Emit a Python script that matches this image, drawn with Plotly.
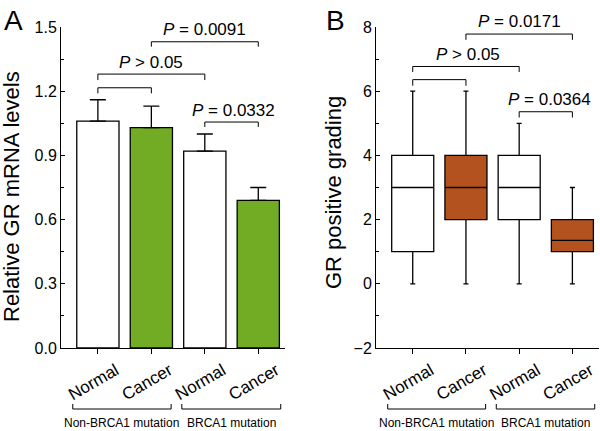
import plotly.graph_objects as go

# ---- data ----
categories = ["Normal", "Cancer", "Normal", "Cancer"]
groups = ["Non-BRCA1 mutation", "BRCA1 mutation"]

mrna_mean = [1.06, 1.03, 0.92, 0.69]
mrna_err = [0.10, 0.10, 0.08, 0.06]

grade_low = [0, 0, 0, 0]
grade_q1 = [1, 2, 2, 1]
grade_median = [3, 3, 3, 1.35]
grade_q3 = [4, 4, 4, 2]
grade_high = [6, 6, 5, 3]

pairs = [(0, 1), (0, 2), (1, 3), (2, 3)]
p_labels_a = ["", "<i>P</i> > 0.05", "<i>P</i> = 0.0091", "<i>P</i> = 0.0332"]
p_labels_b = ["", "<i>P</i> > 0.05", "<i>P</i> = 0.0171", "<i>P</i> = 0.0364"]

GREEN = "#72AC25"
BROWN = "#B4521F"
FONT = "Liberation Sans"
W, H = 600, 431

xs = list(range(len(categories)))
bar_colors = ["white", GREEN, "white", GREEN]

fig = go.Figure()

fig.add_trace(go.Bar(
    x=xs, y=mrna_mean, width=0.79,
    marker=dict(color=bar_colors, line=dict(color="black", width=1.3)),
    error_y=dict(type="data", symmetric=False, array=mrna_err,
                 arrayminus=[0] * len(mrna_err), color="black",
                 thickness=1.3, width=8),
    xaxis="x", yaxis="y", showlegend=False,
))

for idxs, fill in [([0, 2], "white"), ([1, 3], BROWN)]:
    fig.add_trace(go.Box(
        x=[xs[i] for i in idxs],
        lowerfence=[grade_low[i] for i in idxs],
        q1=[grade_q1[i] for i in idxs],
        median=[grade_median[i] for i in idxs],
        q3=[grade_q3[i] for i in idxs],
        upperfence=[grade_high[i] for i in idxs],
        width=0.79, whiskerwidth=0.12, fillcolor=fill,
        line=dict(color="black", width=1.3), boxpoints=False,
        xaxis="x2", yaxis="y2", showlegend=False, hoverinfo="skip",
    ))

ydom = [1 - 348 / H, 1 - 27 / H]
xcommon = dict(range=[-0.69, 3.5], tickvals=xs, ticktext=categories,
               tickangle=-30, ticks="outside", ticklen=5, tickcolor="black",
               showline=True, linecolor="black", linewidth=1,
               showgrid=False, zeroline=False,
               tickfont=dict(family=FONT, size=17, color="black"),
               ticklabelshift=18)
ycommon = dict(ticks="inside", ticklen=4, tickcolor="black",
               showline=True, linecolor="black", linewidth=1,
               showgrid=False, zeroline=False, domain=ydom,
               tickfont=dict(family=FONT, size=16, color="black"))

fig.update_layout(
    width=W, height=H, margin=dict(l=0, r=0, t=0, b=0, autoexpand=False),
    paper_bgcolor="white", plot_bgcolor="white",
    barmode="overlay", boxmode="overlay",
    xaxis=dict(domain=[61 / W, 285 / W], anchor="y", automargin=False, **xcommon),
    xaxis2=dict(domain=[376 / W, 599 / W], anchor="y2", automargin=False, **xcommon),
    yaxis=dict(anchor="x", range=[0, 1.5], dtick=0.3, tick0=0,
               tickformat=".1f", automargin=False,
               minor=dict(dtick=0.15, ticks="inside", ticklen=3,
                          tickcolor="black"),
               **ycommon),
    yaxis2=dict(anchor="x2", range=[-2, 8], dtick=2, tick0=0, automargin=False,
                minor=dict(dtick=1, ticks="inside", ticklen=3,
                           tickcolor="black"),
                **ycommon),
)

shapes = []
annotations = []

# significance brackets (y in axis units) and label centres
br_a = [(1.216, 1.19), (1.28, 1.252), (1.431, 1.408), (1.056, 1.033)]
txt_a = [(None, None), (1.0, 1.336), (2.0, 1.49), (2.53, 1.112)]
br_b = [(6.36, 6.17), (6.77, 6.6), (7.78, 7.6), (5.36, 5.18)]
txt_b = [(None, None), (1.03, 7.13), (2.0, 8.16), (2.57, 5.73)]

for (xr, yr, rng, brs, txts, labels) in [
        ("x", "y", (0, 1.5), br_a, txt_a, p_labels_a),
        ("x2", "y2", (-2, 8), br_b, txt_b, p_labels_b)]:
    for (a, b), (ytop, yleg), (tx, ty), lab in zip(pairs, brs, txts, labels):
        shapes.append(dict(
            type="path", xref=xr, yref=yr,
            path=f"M {xs[a]},{yleg} L {xs[a]},{ytop} L {xs[b]},{ytop} L {xs[b]},{yleg}",
            line=dict(color="black", width=1)))
        if lab:
            annotations.append(dict(
                x=tx, y=(ty - rng[0]) / (rng[1] - rng[0]),
                xref=xr, yref=yr + " domain", text=lab, showarrow=False,
                xanchor="center", yanchor="middle",
                font=dict(family=FONT, size=17, color="black")))

# group brackets under the categories
for xr in ["x", "x2"]:
    for (x0, x1), g in zip([(-0.47, 1.37), (1.57, 3.42)], groups):
        y_line = 1 - 409 / H
        y_tip = 1 - 404 / H
        shapes.append(dict(
            type="path", xref=xr, yref="paper",
            path=f"M {x0},{y_tip} L {x0},{y_line} L {x1},{y_line} L {x1},{y_tip}",
            line=dict(color="black", width=1)))
        annotations.append(dict(
            x=(x0 + x1) / 2, y=1 - 423 / H, xref=xr, yref="paper", text=g,
            showarrow=False, xanchor="center", yanchor="middle",
            font=dict(family=FONT, size=12, color="black")))

# y axis titles
annotations.append(dict(x=11 / W, y=1 - 197 / H, xref="paper", yref="paper",
                        text="Relative GR mRNA levels", textangle=-90,
                        showarrow=False, xanchor="center", yanchor="middle",
                        font=dict(family=FONT, size=22, color="black")))
annotations.append(dict(x=334 / W, y=1 - 193 / H, xref="paper", yref="paper",
                        text="GR positive grading", textangle=-90,
                        showarrow=False, xanchor="center", yanchor="middle",
                        font=dict(family=FONT, size=22, color="black")))

# panel letters
for letter, px in [("A", 13), ("B", 335)]:
    annotations.append(dict(x=px / W, y=1 - 20 / H, xref="paper", yref="paper",
                            text=letter, showarrow=False, xanchor="center",
                            yanchor="middle",
                            font=dict(family=FONT, size=28, color="black")))

fig.update_layout(shapes=shapes, annotations=annotations, hovermode=False)

fig.write_html(
    "out.html",
    config={"displayModeBar": False, "staticPlot": True},
    post_script="document.body.style.margin='0';"
                "document.documentElement.style.overflow='hidden';"
                "document.body.style.overflow='hidden';",
)
